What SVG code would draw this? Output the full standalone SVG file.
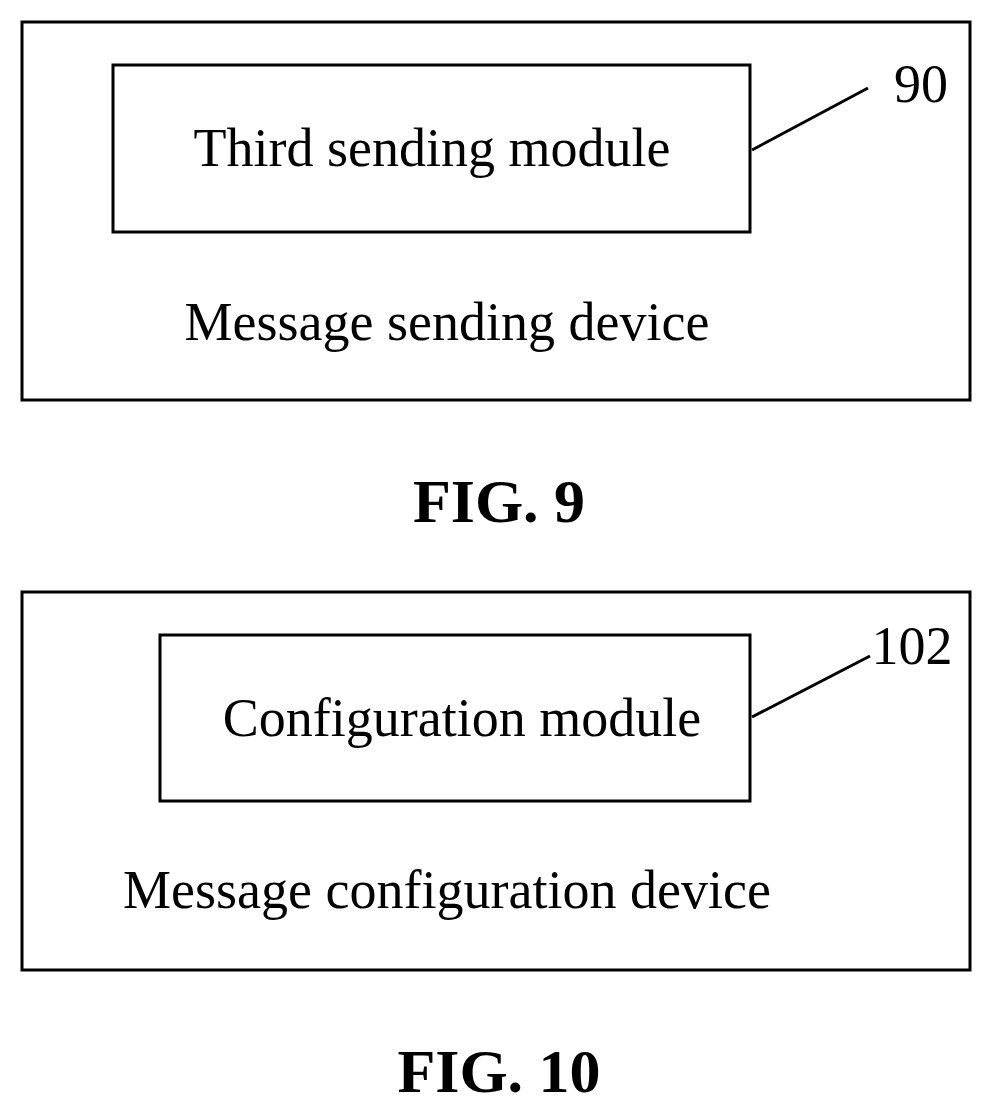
<svg xmlns="http://www.w3.org/2000/svg" width="993" height="1112" viewBox="0 0 993 1112">
<style>
.b{fill:none;stroke:#000;stroke-width:3}
.t{font-family:"Liberation Serif",serif;font-size:54px;fill:#000;text-anchor:middle}
.f{font-family:"Liberation Serif",serif;font-size:62px;font-weight:bold;fill:#000;text-anchor:middle}
</style>
<rect width="993" height="1112" fill="#fff"/>
<g id="device9"><rect class="b" x="22" y="22" width="948" height="378"/><text class="t" x="447" y="340">Message sending device</text></g>
<g id="module90"><rect class="b" x="113" y="65" width="637" height="167"/><text class="t" x="432" y="166">Third sending module</text></g>
<g id="label90"><text class="t" x="921" y="102">90</text></g>
<g id="device10"><rect class="b" x="22" y="592" width="948" height="378"/><text class="t" x="447" y="908">Message configuration device</text></g>
<g id="module102"><rect class="b" x="160" y="635" width="590" height="166"/><text class="t" x="462" y="736">Configuration module</text></g>
<g id="label102"><text class="t" x="912" y="664">102</text></g>
<g id="connectors"><line class="b" x1="752" y1="150" x2="868" y2="88"/><line class="b" x1="752" y1="717" x2="870" y2="656"/></g>
<text class="f" x="499" y="522">FIG. 9</text>
<text class="f" x="499" y="1092">FIG. 10</text>
</svg>
